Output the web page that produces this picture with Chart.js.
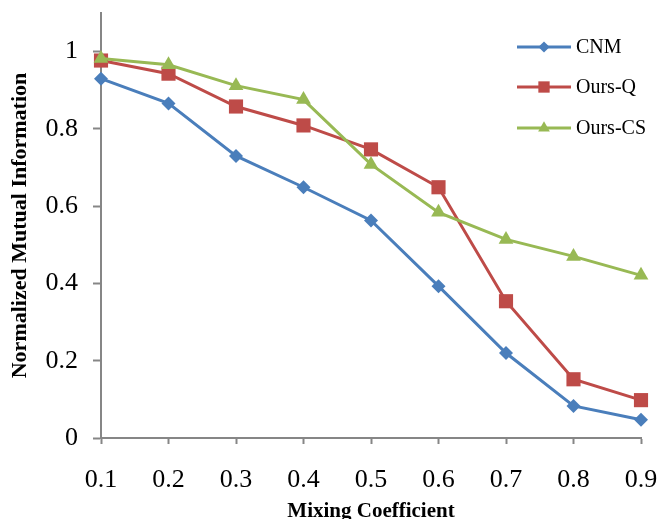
<!DOCTYPE html>
<html>
<head>
<meta charset="utf-8">
<script src="https://cdn.jsdelivr.net/npm/chart.js@4/dist/chart.umd.min.js"></script>
<style>
  html, body { margin: 0; padding: 0; background: #fff; overflow: hidden; }
  #chart { display: block; }
</style>
</head>
<body>
<canvas id="chart" width="660" height="519"></canvas>
<script>
// values
const mixingLabels = ['0.1', '0.2', '0.3', '0.4', '0.5', '0.6', '0.7', '0.8', '0.9'];
const cnmValues    = [0.930, 0.866, 0.730, 0.649, 0.563, 0.393, 0.220, 0.083, 0.047];
const oursQValues  = [0.977, 0.943, 0.858, 0.809, 0.747, 0.649, 0.354, 0.152, 0.098];
const oursCSValues = [0.982, 0.966, 0.912, 0.876, 0.708, 0.584, 0.514, 0.470, 0.421];
const yTickValues  = [0, 0.2, 0.4, 0.6, 0.8, 1];

const FONT = "'Liberation Serif', 'Times New Roman', serif";
const AXIS_GREY = '#868686';

const seriesStyles = [
  { label: 'CNM',     color: '#4A7EBB', pointStyle: 'rectRot',  radius: 7 },
  { label: 'Ours-Q',  color: '#BE4B48', pointStyle: 'rect',     radius: 10 },
  { label: 'Ours-CS', color: '#98B954', pointStyle: 'triangle', radius: 8.5 }
];
const seriesValues = [cnmValues, oursQValues, oursCSValues];

// Legend sits inside the plot, top right, one row per series
const insideLegend = {
  id: 'insideLegend',
  afterDraw(chart) {
    const ctx = chart.ctx;
    const lineX0 = 517, lineX1 = 571, textX = 576;
    const rowsY = [47, 87, 128];
    ctx.save();
    seriesStyles.forEach((s, i) => {
      const y = rowsY[i];
      ctx.strokeStyle = s.color;
      ctx.lineWidth = 3;
      ctx.beginPath();
      ctx.moveTo(lineX0, y);
      ctx.lineTo(lineX1, y);
      ctx.stroke();
      ctx.fillStyle = s.color;
      Chart.helpers.drawPoint(ctx, {
        pointStyle: s.pointStyle,
        radius: s.radius * 0.8,
        rotation: 0,
        borderWidth: 0
      }, (lineX0 + lineX1) / 2, y);
      ctx.fillStyle = '#000';
      ctx.font = '20px ' + FONT;
      ctx.textBaseline = 'middle';
      ctx.textAlign = 'left';
      ctx.fillText(s.label, textX, y + 1);
    });
    ctx.restore();
  }
};

new Chart(document.getElementById('chart'), {
  type: 'line',
  data: {
    labels: mixingLabels,
    datasets: seriesStyles.map((s, i) => ({
      label: s.label,
      data: seriesValues[i],
      borderColor: s.color,
      backgroundColor: s.color,
      borderWidth: 3,
      pointStyle: s.pointStyle,
      pointRadius: s.radius,
      pointBorderWidth: 0,
      pointBackgroundColor: s.color,
      tension: 0,
      clip: false,
      order: 3 - i // later series drawn on top
    }))
  },
  options: {
    responsive: false,
    animation: false,
    layout: { padding: { top: 13, right: 19, left: 0, bottom: 0 } },
    plugins: {
      legend: { display: false },
      tooltip: { enabled: false }
    },
    scales: {
      x: {
        type: 'category',
        offset: false,
        grid: {
          drawOnChartArea: false,
          drawTicks: true,
          tickLength: 6,
          tickColor: AXIS_GREY,
          tickWidth: 2
        },
        border: { color: AXIS_GREY, width: 2 },
        ticks: {
          color: '#000',
          font: { family: FONT, size: 26 },
          padding: 21,
          maxRotation: 0,
          autoSkip: false
        },
        title: {
          display: true,
          text: 'Mixing Coefficient',
          color: '#000',
          font: { family: FONT, size: 21, weight: 'bold' },
          padding: { top: 0, bottom: -5 }
        },
        afterFit: scale => {
          scale.height = 81;
          scale.paddingLeft = 0;
          scale.paddingRight = 0;
        }
      },
      y: {
        min: 0,
        max: 1.1,
        grid: {
          drawOnChartArea: false,
          drawTicks: true,
          tickLength: 8,
          tickColor: AXIS_GREY,
          tickWidth: 2
        },
        border: { color: AXIS_GREY, width: 2 },
        ticks: {
          color: '#000',
          font: { family: FONT, size: 26 },
          padding: 15,
          callback: v => String(+Number(v).toFixed(1))
        },
        afterBuildTicks: scale => {
          scale.ticks = yTickValues.map(v => ({ value: v }));
        },
        title: {
          display: true,
          text: 'Normalized Mutual Information',
          color: '#000',
          font: { family: FONT, size: 22, weight: 'bold' },
          padding: { top: 7, bottom: 0 }
        },
        afterFit: scale => {
          scale.width = 101;
          scale.paddingTop = 0;
          scale.paddingBottom = 0;
        }
      }
    }
  },
  plugins: [insideLegend]
});
</script>
</body>
</html>
